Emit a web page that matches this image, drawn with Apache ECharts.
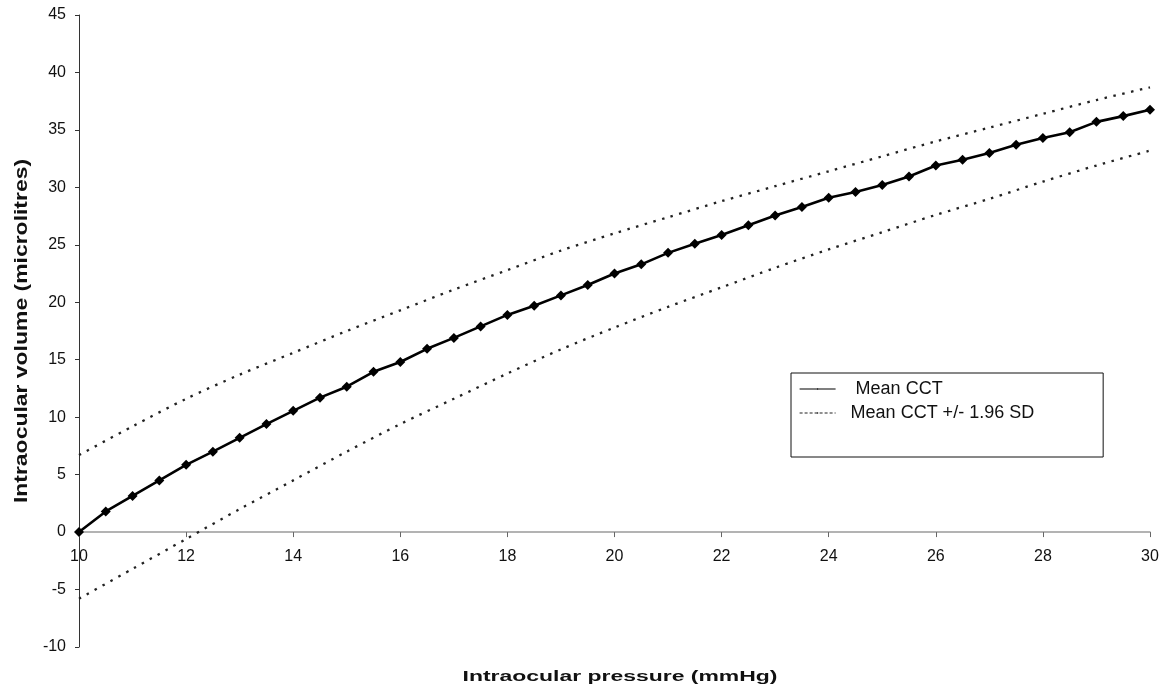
<!DOCTYPE html>
<html>
<head>
<meta charset="utf-8">
<script src="https://cdn.jsdelivr.net/npm/echarts@6/dist/echarts.min.js"></script>
<style>
  html, body { margin: 0; padding: 0; background: #fff; }
  #chart { width: 1173px; height: 693px; }
</style>
</head>
<body>
<div id="chart"></div>
<script>
// Intraocular pressure (mmHg) at which the mean curve is sampled
const pressure = [
  10, 10.5, 11, 11.5, 12, 12.5, 13, 13.5, 14, 14.5,
  15, 15.5, 16, 16.5, 17, 17.5, 18, 18.5, 19, 19.5,
  20, 20.5, 21, 21.5, 22, 22.5, 23, 23.5, 24, 24.5,
  25, 25.5, 26, 26.5, 27, 27.5, 28, 28.5, 29, 29.5, 30
];
// Intraocular volume (microlitres) for mean CCT
const meanVolume = [
  0.0, 1.8, 3.15, 4.5, 5.85, 7.0, 8.2, 9.4, 10.55, 11.7,
  12.65, 13.95, 14.8, 15.95, 16.9, 17.9, 18.9, 19.7, 20.6, 21.5,
  22.5, 23.3, 24.3, 25.1, 25.85, 26.7, 27.55, 28.3, 29.1, 29.6,
  30.2, 30.95, 31.9, 32.4, 33.0, 33.7, 34.3, 34.8, 35.7, 36.2, 36.75
];
// Pressure points for the +/- 1.96 SD limits
const bandPressure = [10, 11, 12, 13, 14, 15, 16, 17, 18, 19, 20, 21, 22, 23, 24, 25, 26, 27, 28, 29, 30];
const upperVolume = [6.7, 9.2, 11.6, 13.7, 15.6, 17.5, 19.3, 21.1, 22.8, 24.5, 26.0, 27.4, 28.8, 30.1, 31.4, 32.7, 34.0, 35.2, 36.4, 37.6, 38.7];
const lowerVolume = [-5.8, -3.2, -0.6, 2.0, 4.5, 7.0, 9.4, 11.6, 13.8, 15.9, 17.8, 19.6, 21.3, 23.0, 24.6, 26.1, 27.6, 29.0, 30.5, 31.9, 33.2];

const seriesNames = ['Mean CCT', 'Mean CCT +/- 1.96 SD'];
const xTitle = 'Intraocular pressure (mmHg)';
const yTitle = 'Intraocular volume (microlitres)';

const pairs = (xs, ys) => xs.map((x, i) => [x, ys[i]]);

const chart = echarts.init(document.getElementById('chart'), null, { renderer: 'canvas' });

const font = 'Arial, "Liberation Sans", Helvetica, sans-serif';
const dotted = [2.5, 6.5];
const yMin = -10;

chart.setOption({
  animation: false,
  backgroundColor: '#fff',
  grid: { left: 79, right: 23, top: 15, bottom: 46, containLabel: false },
  xAxis: {
    type: 'value',
    min: 10,
    max: 30,
    interval: 2,
    offset: 0,
    axisLine: { show: true, onZero: false, lineStyle: { color: '#9a9a9a', width: 1.5 } },
    axisTick: { show: true, length: 5, lineStyle: { color: '#666', width: 1 } },
    axisLabel: { fontSize: 16, color: '#111', margin: 17, fontFamily: font, showMinLabel: true, showMaxLabel: true },
    splitLine: { show: false }
  },
  yAxis: {
    type: 'value',
    min: yMin,
    max: 45,
    interval: 5,
    axisLine: { show: true, lineStyle: { color: '#333', width: 1 } },
    axisTick: { show: true, length: 4, lineStyle: { color: '#333', width: 1 } },
    axisLabel: { fontSize: 16, color: '#111', margin: 13, fontFamily: font },
    splitLine: { show: false }
  },
  legend: {
    orient: 'vertical',
    left: 791,
    top: 373,
    padding: [7, 69, 35, 8],
    itemWidth: 36,
    itemHeight: 2,
    itemGap: 6,
    backgroundColor: '#fff',
    borderColor: '#111',
    borderWidth: 1,
    borderRadius: 0,
    selectedMode: false,
    formatter: name => (name === seriesNames[0] ? '   ' : '  ') + name,
    textStyle: { fontSize: 18, color: '#111', fontFamily: font },
    data: [
      { name: seriesNames[0], lineStyle: { width: 1.2, type: 'solid' } },
      { name: seriesNames[1], lineStyle: { width: 1.2, type: [3, 2] } }
    ]
  },
  graphic: [
    {
      type: 'text',
      x: 620,
      y: 677,
      scaleX: 1.53,
      style: {
        text: xTitle,
        font: 'bold 15px ' + font,
        fill: '#111',
        textAlign: 'center',
        textVerticalAlign: 'middle'
      }
    },
    {
      type: 'text',
      x: 22,
      y: 331,
      rotation: Math.PI / 2,
      scaleX: 1.24,
      style: {
        text: yTitle,
        font: 'bold 18.5px ' + font,
        fill: '#111',
        textAlign: 'center',
        textVerticalAlign: 'middle'
      }
    }
  ],
  series: [
    {
      name: seriesNames[1],
      type: 'line',
      data: pairs(bandPressure, upperVolume),
      symbol: 'none',
      smooth: 0.3,
      lineStyle: { color: '#222', width: 2.3, type: dotted, cap: 'butt' },
      itemStyle: { color: '#222' },
      z: 2
    },
    {
      name: seriesNames[1],
      type: 'line',
      data: pairs(bandPressure, lowerVolume),
      symbol: 'none',
      smooth: 0.3,
      lineStyle: { color: '#222', width: 2.3, type: dotted, cap: 'butt' },
      itemStyle: { color: '#222' },
      z: 2
    },
    {
      name: seriesNames[0],
      type: 'line',
      data: pairs(pressure, meanVolume),
      symbol: 'diamond',
      symbolSize: 10,
      clip: false,
      lineStyle: { color: '#000', width: 2.6 },
      itemStyle: { color: '#000' },
      z: 3
    }
  ]
});

// Lift the pressure axis (line, ticks and labels) up to the zero volume level
const yZeroPx = chart.convertToPixel({ yAxisIndex: 0 }, 0);
const yBottomPx = chart.convertToPixel({ yAxisIndex: 0 }, yMin);
chart.setOption({ xAxis: { offset: yZeroPx - yBottomPx } });
</script>
</body>
</html>
